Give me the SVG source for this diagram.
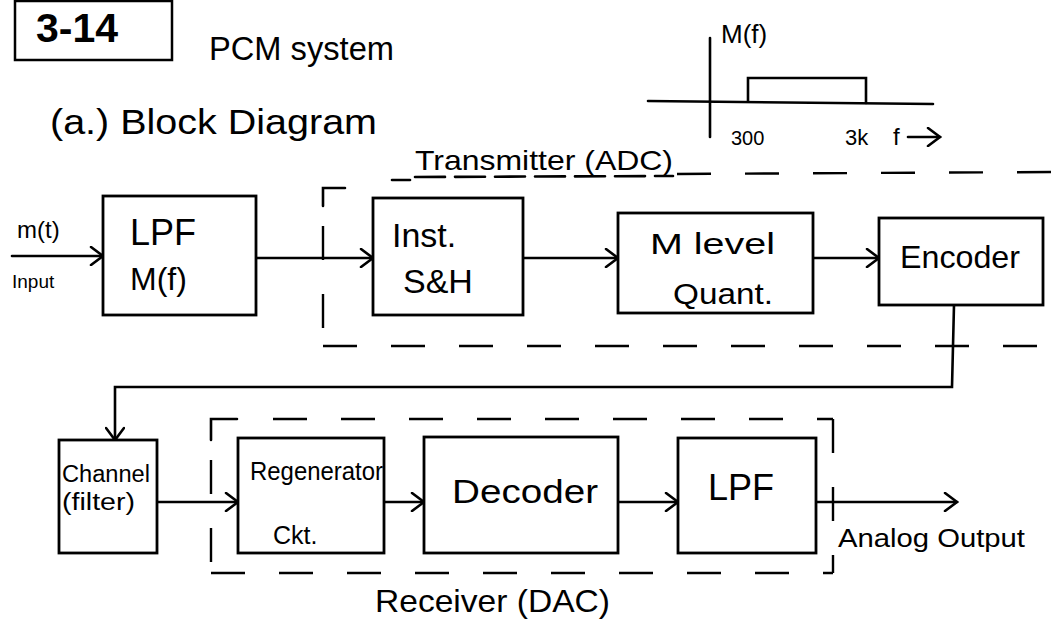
<svg xmlns="http://www.w3.org/2000/svg" width="1055" height="627" viewBox="0 0 1055 627">
<defs>
<style>
.ln{stroke:#000;stroke-width:2.6;fill:none;stroke-linecap:round}
.box{stroke:#000;stroke-width:2.8;fill:#fff}
.dash{stroke:#000;stroke-width:2.4;fill:none;stroke-dasharray:34 34}
.t{font-family:"Liberation Sans",Arial,sans-serif;fill:#000}
</style>
<marker id="ah" markerUnits="userSpaceOnUse" markerWidth="18" markerHeight="20" refX="15" refY="10" orient="auto">
<path d="M3,1 L15,10 L3,19" stroke="#000" stroke-width="2.6" fill="none" stroke-linecap="round"/>
</marker>
</defs>
<rect width="1055" height="627" fill="#fff"/>

<g id="header">
<rect x="15" y="1" width="157" height="59" fill="#fff" stroke="#000" stroke-width="2.5"/>
<text class="t" x="36" y="42" font-size="41" font-weight="bold">3-14</text>
<text class="t" x="209" y="60" font-size="34" textLength="185" lengthAdjust="spacingAndGlyphs">PCM system</text>
<text class="t" x="50" y="134" font-size="35" textLength="327" lengthAdjust="spacingAndGlyphs">(a.) Block Diagram</text>
</g>

<g id="spectrum">
<line class="ln" x1="710" y1="38" x2="710" y2="137"/>
<line class="ln" x1="648" y1="101" x2="933" y2="104"/>
<polyline class="ln" points="748,101 748,78 866,78 866,103"/>
<text class="t" x="721" y="43" font-size="26">M(f)</text>
<text class="t" x="731" y="145" font-size="20">300</text>
<text class="t" x="845" y="145" font-size="22">3k</text>
<text class="t" x="893" y="145" font-size="24">f</text>
<line class="ln" x1="908" y1="137" x2="940" y2="137" marker-end="url(#ah)"/>
</g>

<g id="transmitter">
<polyline class="ln" points="345,188 323,188 323,206"/>
<line class="dash" x1="323" y1="226" x2="323" y2="346"/>
<line class="ln" x1="392" y1="180" x2="410" y2="180"/>
<line class="dash" x1="677" y1="174" x2="1055" y2="172"/>
<line class="ln" x1="415" y1="177" x2="673" y2="176" stroke-dasharray="30 10"/>
<line class="dash" x1="323" y1="346" x2="1055" y2="346"/>
<text class="t" x="415" y="170" font-size="28" textLength="258" lengthAdjust="spacingAndGlyphs">Transmitter (ADC)</text>
</g>

<g id="receiver">
<polyline class="ln" points="237,419 211,419 211,440"/>
<line class="dash" x1="211" y1="460" x2="211" y2="573"/>
<line class="dash" x1="273" y1="419" x2="833" y2="419"/>
<line class="dash" x1="833" y1="419" x2="833" y2="573"/>
<line class="dash" x1="211" y1="573" x2="833" y2="573"/>
<text class="t" x="375" y="612" font-size="32" textLength="235" lengthAdjust="spacingAndGlyphs">Receiver (DAC)</text>
</g>

<g id="connectors">
<line class="ln" x1="12" y1="256" x2="103" y2="256" marker-end="url(#ah)"/>
<line class="ln" x1="256" y1="258" x2="373" y2="258" marker-end="url(#ah)"/>
<line class="ln" x1="523" y1="258" x2="618" y2="258" marker-end="url(#ah)"/>
<line class="ln" x1="813" y1="258" x2="879" y2="258" marker-end="url(#ah)"/>
<polyline class="ln" points="954,305 952,387 115,387 115,440" marker-end="url(#ah)"/>
<line class="ln" x1="157" y1="502" x2="238" y2="502" marker-end="url(#ah)"/>
<line class="ln" x1="384" y1="502" x2="424" y2="502" marker-end="url(#ah)"/>
<line class="ln" x1="618" y1="502" x2="678" y2="502" marker-end="url(#ah)"/>
<line class="ln" x1="816" y1="502" x2="957" y2="502" marker-end="url(#ah)"/>
<text class="t" x="17" y="238" font-size="24">m(t)</text>
<text class="t" x="12" y="288" font-size="19">Input</text>
<text class="t" x="838" y="547" font-size="25" textLength="187" lengthAdjust="spacingAndGlyphs">Analog Output</text>
</g>

<g id="lpf_in">
<rect class="box" x="103" y="196" width="153" height="119"/>
<text class="t" x="130" y="245" font-size="36">LPF</text>
<text class="t" x="130" y="290" font-size="32">M(f)</text>
</g>

<g id="sample_hold">
<rect class="box" x="373" y="198" width="150" height="117"/>
<text class="t" x="392" y="247" font-size="34">Inst.</text>
<text class="t" x="403" y="293" font-size="34">S&amp;H</text>
</g>

<g id="quantizer">
<rect class="box" x="618" y="213" width="195" height="100"/>
<text class="t" x="650" y="254" font-size="30" textLength="125" lengthAdjust="spacingAndGlyphs">M level</text>
<text class="t" x="673" y="304" font-size="30" textLength="100" lengthAdjust="spacingAndGlyphs">Quant.</text>
</g>

<g id="encoder">
<rect class="box" x="879" y="218" width="164" height="87"/>
<text class="t" x="900" y="268" font-size="32" textLength="120" lengthAdjust="spacingAndGlyphs">Encoder</text>
</g>

<g id="channel">
<rect class="box" x="59" y="440" width="98" height="113"/>
<text class="t" x="62" y="482" font-size="23" textLength="88" lengthAdjust="spacingAndGlyphs">Channel</text>
<text class="t" x="62" y="510" font-size="23" textLength="73" lengthAdjust="spacingAndGlyphs">(filter)</text>
</g>

<g id="regenerator">
<rect class="box" x="238" y="438" width="146" height="115"/>
<text class="t" x="250" y="480" font-size="25" textLength="133" lengthAdjust="spacingAndGlyphs">Regenerator</text>
<text class="t" x="273" y="544" font-size="25">Ckt.</text>
</g>

<g id="decoder">
<rect class="box" x="424" y="437" width="194" height="116"/>
<text class="t" x="452" y="503" font-size="33" textLength="146" lengthAdjust="spacingAndGlyphs">Decoder</text>
</g>

<g id="lpf_out">
<rect class="box" x="678" y="438" width="138" height="115"/>
<text class="t" x="708" y="500" font-size="36">LPF</text>
</g>
</svg>
